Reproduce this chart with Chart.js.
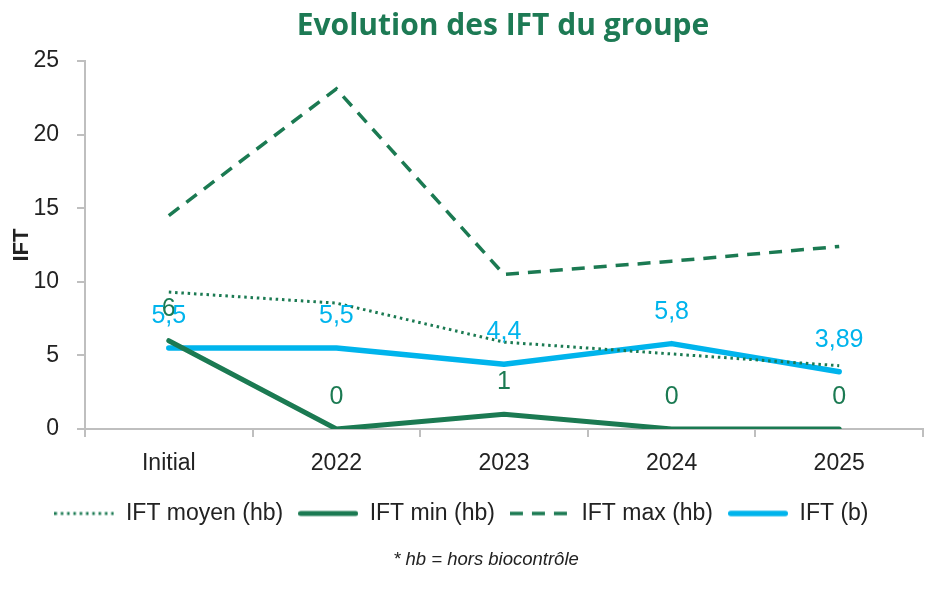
<!DOCTYPE html>
<html>
<head>
<meta charset="utf-8">
<script src="https://cdn.jsdelivr.net/npm/chart.js@4/dist/chart.umd.min.js"></script>
<style>
  html, body { margin: 0; padding: 0; background: #fff; }
  #wrap { position: relative; width: 940px; height: 602px; }
  #title { position: absolute; left: 0; width: 1006px; top: 8px; text-align: center;
           font-family: "Open Sans", Lato, sans-serif; font-weight: bold; font-size: 30px;
           line-height: 32px; color: #1D7A54; font-variant-ligatures: none; }
  #note { position: absolute; left: 0; width: 972px; top: 549px; text-align: center;
          font-family: "Liberation Sans", Arial, sans-serif; font-style: italic; font-size: 18.5px;
          line-height: 20px; color: #222; }
  canvas { position: absolute; left: 0; top: 0; }
</style>
</head>
<body>
<div id="wrap">
  <canvas id="c" width="940" height="602"></canvas>
  <div id="title">Evolution des IFT du groupe</div>
  <div id="note">* hb = hors biocontrôle</div>
</div>
<script>
const categories = ['Initial', '2022', '2023', '2024', '2025'];
const iftMoyen = [9.3, 8.55, 5.9, 5.1, 4.3];
const iftMin = [6, 0, 1, 0, 0];
const iftMax = [14.5, 23.1, 10.5, 11.4, 12.4];
const iftB = [5.5, 5.5, 4.4, 5.8, 3.89];
const seriesNames = ['IFT moyen (hb)', 'IFT min (hb)', 'IFT max (hb)', 'IFT (b)'];
const yMin = 0, yMax = 25, yStep = 5;
const axisTitle = 'IFT';

const GREEN = '#1B7A52';
const CYAN = '#00B4EC';
const GREY = '#BFBFBF';
const TEXT = '#222222';
const FONT = '"Liberation Sans", Arial, sans-serif';

// small legend sample images, drawn with each dataset's own line style
function legendSample(ds) {
  const c = document.createElement('canvas');
  c.width = 60; c.height = 12;
  const g = c.getContext('2d');
  g.strokeStyle = ds.borderColor;
  g.lineWidth = ds.borderWidth;
  g.lineCap = ds.borderCapStyle || 'butt';
  g.setLineDash(ds.borderDash || []);
  const pad = g.lineCap === 'round' ? ds.borderWidth / 2 : 0;
  g.beginPath();
  g.moveTo(pad, 6);
  g.lineTo(60 - pad, 6);
  g.stroke();
  return c;
}

const labelPlugin = {
  id: 'pointLabels',
  afterDatasetsDraw(chart) {
    const ctx = chart.ctx;
    chart.data.datasets.forEach((ds, i) => {
      if (!ds.showLabels) return;
      const meta = chart.getDatasetMeta(i);
      ctx.save();
      ctx.font = '25px ' + FONT;
      ctx.fillStyle = ds.borderColor;
      ctx.textAlign = 'center';
      ctx.textBaseline = 'middle';
      meta.data.forEach((pt, j) => {
        const txt = String(ds.data[j]).replace('.', ',');
        ctx.fillText(txt, pt.x, pt.y - 32);
      });
      ctx.restore();
    });
  }
};

const datasets = [
  { label: seriesNames[0], data: iftMoyen, borderColor: GREEN, backgroundColor: GREEN,
    borderWidth: 3, borderDash: [2.5, 3.8], pointRadius: 0 },
  { label: seriesNames[1], data: iftMin, borderColor: GREEN, backgroundColor: GREEN,
    borderWidth: 5, borderCapStyle: 'round', borderJoinStyle: 'round', pointRadius: 0, showLabels: true },
  { label: seriesNames[2], data: iftMax, borderColor: GREEN, backgroundColor: GREEN,
    borderWidth: 3.5, borderDash: [13, 9], pointRadius: 0 },
  { label: seriesNames[3], data: iftB, borderColor: CYAN, backgroundColor: CYAN,
    borderWidth: 5.5, borderCapStyle: 'round', borderJoinStyle: 'round', pointRadius: 0, showLabels: true }
];
const samples = datasets.map(legendSample);

new Chart(document.getElementById('c'), {
  type: 'line',
  data: { labels: categories, datasets: datasets },
  options: {
    responsive: false,
    animation: false,
    devicePixelRatio: 1,
    layout: { padding: { top: 61, right: 17, bottom: 67, left: 0 } },
    plugins: {
      title: { display: false },
      tooltip: { enabled: false },
      legend: {
        position: 'bottom',
        labels: {
          usePointStyle: true,
          pointStyleWidth: 60,
          boxHeight: 10,
          padding: 15,
          color: TEXT,
          font: { family: FONT, size: 23 },
          generateLabels(chart) {
            const items = Chart.defaults.plugins.legend.labels.generateLabels(chart);
            items.forEach(it => { it.pointStyle = samples[it.datasetIndex]; });
            return items;
          }
        }
      }
    },
    scales: {
      x: {
        offset: true,
        grid: { offset: true, drawOnChartArea: false, drawTicks: true, tickLength: 8, color: GREY, lineWidth: 2 },
        border: { color: GREY, width: 2 },
        ticks: { color: TEXT, font: { family: FONT, size: 23 }, padding: 13, maxRotation: 0 },
        afterFit(scale) { scale.height = 58; }
      },
      y: {
        min: yMin, max: yMax,
        ticks: { stepSize: yStep, color: TEXT, font: { family: FONT, size: 23 }, padding: 18 },
        grid: { drawOnChartArea: false, drawTicks: true, tickLength: 8, color: GREY, lineWidth: 2 },
        border: { color: GREY, width: 2 },
        title: { display: true, text: axisTitle, color: TEXT, font: { family: FONT, size: 22, weight: 'bold' }, padding: { top: 9, bottom: 0 } },
        afterFit(scale) { scale.width = 85; }
      }
    }
  },
  plugins: [labelPlugin]
});
</script>
</body>
</html>
